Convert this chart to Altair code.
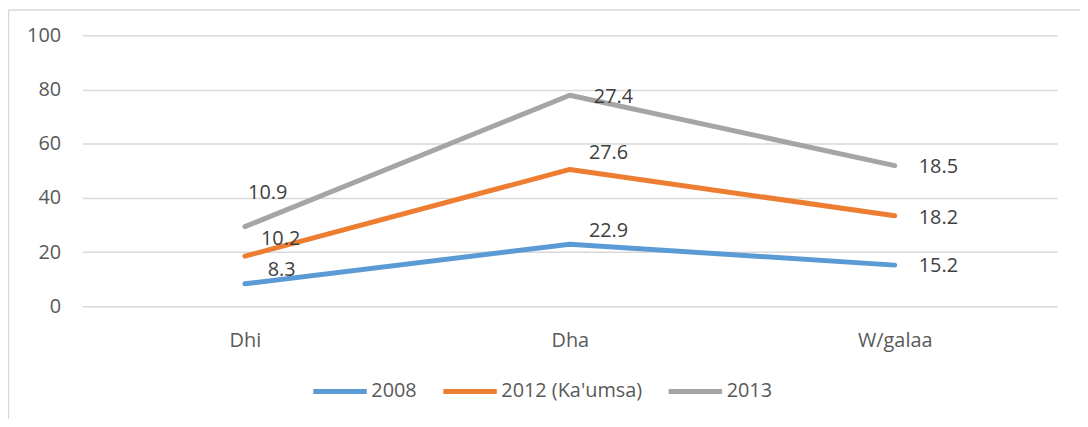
import altair as alt
import pandas as pd

cats = ["Dhi", "Dha", "W/galaa"]
series = ["2008", "2012 (Ka'umsa)", "2013"]
v2008 = [8.3, 22.9, 15.2]
v2012 = [10.2, 27.6, 18.2]
v2013 = [10.9, 27.4, 18.5]
colors = ["#5B9BD5", "#ED7D31", "#A5A5A5"]

# label offsets (px) per (series, category) - styling only
offsets = {
    ("2008", "Dhi"): (37, -14), ("2012 (Ka'umsa)", "Dhi"): (36, -17), ("2013", "Dhi"): (23, -34),
    ("2008", "Dha"): (39, -13), ("2012 (Ka'umsa)", "Dha"): (39, -17), ("2013", "Dha"): (44, 2),
    ("2008", "W/galaa"): (44, 1), ("2012 (Ka'umsa)", "W/galaa"): (44, 2), ("2013", "W/galaa"): (44, 1),
}

rows = []
for si, (s, vals) in enumerate(zip(series, [v2008, v2012, v2013])):
    for c, v in zip(cats, vals):
        rows.append(dict(series=s, cat=c, value=v, order=si))
df = pd.DataFrame(rows)

FONT = "Open Sans"

base = alt.Chart(df).transform_stack(
    stack="value", groupby=["cat"], as_=["y0", "y1"],
    sort=[alt.SortField("order", order="ascending")]
)

x = alt.X("cat:N", sort=cats, scale=alt.Scale(type="point", padding=0.5, domain=cats),
          axis=alt.Axis(title=None, domain=False, ticks=False, grid=False, labelPadding=24,
                        labelFontSize=20, labelColor="#595959", labelFont=FONT, labelAngle=0))
y = alt.Y("y1:Q", scale=alt.Scale(domain=[0, 100], nice=False),
          axis=alt.Axis(title=None, domain=False, ticks=False, values=[0, 20, 40, 60, 80, 100],
                        labelPadding=22, labelFontSize=20, labelColor="#595959", labelFont=FONT,
                        gridColor="#D9D9D9", gridWidth=1.5))

lines = base.transform_calculate(
    cat_order="indexof(['Dhi','Dha','W/galaa'], datum.cat)"
).mark_line(strokeWidth=5, strokeCap="round", strokeJoin="round").encode(
    x=x, y=y,
    color=alt.Color("series:N", sort=series,
                    scale=alt.Scale(domain=series, range=colors),
                    legend=alt.Legend(title=None, orient="none", legendX=230, legendY=329,
                                      direction="horizontal", symbolType="stroke",
                                      symbolSize=2900, symbolStrokeWidth=5,
                                      labelFontSize=20, labelColor="#595959", labelFont=FONT,
                                      columnPadding=16, labelOffset=2)),
    order="cat_order:Q",
)

layers = [lines]
for (s, c), (dx, dy) in offsets.items():
    layers.append(
        base.transform_filter((alt.datum.series == s) & (alt.datum.cat == c))
        .mark_text(dx=dx, dy=dy, fontSize=20, color="#404040", font=FONT)
        .encode(x=alt.X("cat:N", sort=cats), y="y1:Q", text=alt.Text("value:Q", format=".1f"))
    )

border_df = pd.DataFrame({"a": [0]})
left_border = alt.Chart(border_df).mark_rule(color="#D9D9D9", strokeWidth=1.5).encode(
    x=alt.value(-74.5), y=alt.value(-25.5), y2=alt.value(600))
top_border = alt.Chart(border_df).mark_rule(color="#D9D9D9", strokeWidth=1.5).encode(
    x=alt.value(-74.5), x2=alt.value(1200), y=alt.value(-25.5))

chart = alt.layer(*layers, left_border, top_border).properties(
    width=982, height=273,
    autosize=alt.AutoSizeParams(type="none"),
    padding={"left": 75, "top": 26, "right": 23, "bottom": 112},
).configure(font=FONT).configure_view(stroke=None)

chart.save("out.html", embed_options={"renderer": "svg", "actions": False})
